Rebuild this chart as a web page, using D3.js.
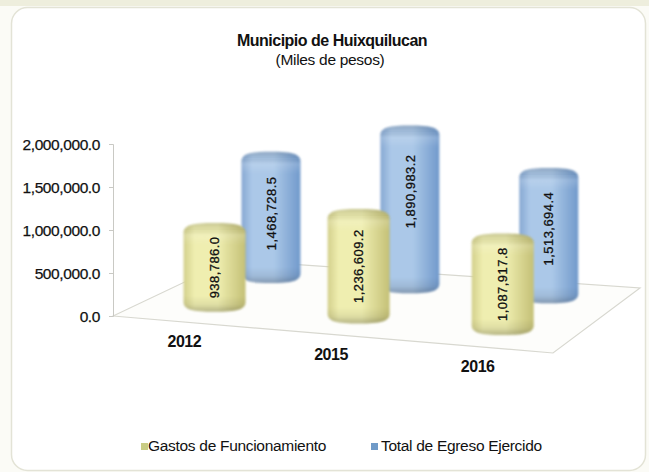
<!DOCTYPE html>
<html>
<head>
<meta charset="utf-8">
<script src="https://cdn.jsdelivr.net/npm/d3@7"></script>
<style>
html, body { margin: 0; padding: 0; background: #fff; }
svg { display: block; }
text { font-family: "Liberation Sans", Arial, sans-serif; fill: #111; }
.axis path, .axis line { stroke: #c9c9c4; fill: none; }
.axis text { font-size: 15.5px; letter-spacing: -0.4px; stroke: #111; stroke-width: 0.25px; }
</style>
</head>
<body>
<svg width="649" height="472"></svg>
<script>
var categories = ["2012", "2015", "2016"];
var seriesNames = ["Gastos de Funcionamiento", "Total de Egreso Ejercido"];
var gastos = [938786.0, 1236609.2, 1087917.8];
var egreso = [1468728.5, 1890983.2, 1513694.4];
var yTicks = [0, 500000, 1000000, 1500000, 2000000];

var svg = d3.select("svg"),
    defs = svg.append("defs");

// the four corners of the 3d floor, everything on the floor is placed between them
var floor = {
    frontLeft: [113, 316], frontRight: [553, 353],
    backRight: [640, 288], backLeft: [231, 260]
};

var colors = [
    {id: "yellow", edgeL: "#d3d08c", light: "#efeeb0", edgeR: "#c4c076", swatch: "#c9cc84", cap: 8, half: 31},
    {id: "blue", edgeL: "#86a8d2", light: "#abc8e8", edgeR: "#7199cb", swatch: "#6f9ac8", cap: 5, half: 29.5}
];

var yScale = d3.scaleLinear().domain([0, 2000000]).range([316, 144]);
var catScale = d3.scaleBand().domain(categories).range([0, 1]);
var depthScale = d3.scaleBand().domain(seriesNames).range([0, 1]);
var comma = d3.format(",.1f");

// blue labels do not sit in the middle of their cylinder in the original
var labelLift = {"2012": 4, "2015": 18, "2016": 7};

function project(u, v) {
    var lx = floor.frontLeft[0] + (floor.backLeft[0] - floor.frontLeft[0]) * v,
        ly = floor.frontLeft[1] + (floor.backLeft[1] - floor.frontLeft[1]) * v,
        rx = floor.frontRight[0] + (floor.backRight[0] - floor.frontRight[0]) * v,
        ry = floor.frontRight[1] + (floor.backRight[1] - floor.frontRight[1]) * v;
    return [lx + (rx - lx) * u, ly + (ry - ly) * u];
}

// the reference is a soft jpeg, the cylinders need a little of that
defs.append("filter").attr("id", "soft")
    .append("feGaussianBlur").attr("stdDeviation", 0.8);

// page and panel
svg.append("rect").attr("width", 649).attr("height", 472).attr("fill", "#fbfbf6");
svg.append("rect").attr("width", 649).attr("height", 6).attr("fill", "#eeeedd");
svg.append("rect")
    .attr("x", 11.5).attr("y", 7.5)
    .attr("width", 634).attr("height", 463)
    .attr("rx", 16)
    .attr("fill", "#fff")
    .attr("stroke", "#e3e3d6")
    .attr("stroke-width", 1.5);

// title
svg.append("text")
    .attr("x", 332).attr("y", 46)
    .attr("text-anchor", "middle")
    .style("font-size", "16px").style("font-weight", "bold").style("letter-spacing", "-0.5px")
    .text("Municipio de Huixquilucan");
svg.append("text")
    .attr("x", 330).attr("y", 65)
    .attr("text-anchor", "middle")
    .style("font-size", "15.5px").style("letter-spacing", "-0.3px")
    .text("(Miles de pesos)");

// floor
svg.append("path")
    .attr("d", d3.line()([floor.frontLeft, floor.frontRight, floor.backRight, floor.backLeft]) + "Z")
    .attr("fill", "#fdfdfb")
    .attr("stroke", "#d8d8d0")
    .attr("stroke-width", 1.2);

// y axis
svg.append("g")
    .attr("class", "axis")
    .attr("transform", "translate(113,0)")
    .call(d3.axisLeft(yScale).tickValues(yTicks).tickFormat(comma).tickSize(4).tickPadding(9))
    .call(function(g) { g.selectAll("text").attr("dy", "0.36em"); });

// category labels
svg.selectAll(".cat")
    .data(categories)
    .enter().append("text")
    .attr("class", "cat")
    .attr("text-anchor", "middle")
    .attr("x", function(d) { return project(catScale(d) + catScale.bandwidth() / 2, 0)[0] - 2; })
    .attr("y", function(d) { return project(catScale(d) + catScale.bandwidth() / 2, 0)[1] + 25; })
    .style("font-size", "16px").style("font-weight", "bold").style("letter-spacing", "-0.5px")
    .text(function(d) { return d; });

// side shading of the cylinders
colors.forEach(function(c) {
    var grad = defs.append("linearGradient").attr("id", "side-" + c.id);
    grad.append("stop").attr("offset", "0%").attr("stop-color", c.edgeL);
    grad.append("stop").attr("offset", "18%").attr("stop-color", c.light);
    grad.append("stop").attr("offset", "55%").attr("stop-color", c.light);
    grad.append("stop").attr("offset", "100%").attr("stop-color", c.edgeR);
});

var bars = [];
// back row first so the yellow ones overlap the blue ones
[egreso, gastos].forEach(function(values) {
    var s = values === gastos ? 0 : 1;
    categories.forEach(function(cat, i) {
        var p = project(catScale(cat) + catScale.bandwidth() / 2,
                        depthScale(seriesNames[s]) + depthScale.bandwidth() / 2);
        var bottom = p[1] + 4;
        bars.push({
            cat: cat, value: values[i], color: colors[s], s: s, cx: p[0], bottom: bottom,
            top: bottom - (yScale(0) - yScale(values[i])) - colors[s].cap
        });
    });
});

// rim shading top and bottom, one gradient per bar because the heights differ
bars.forEach(function(d, i) {
    var grad = defs.append("linearGradient")
        .attr("id", "rim-" + i)
        .attr("gradientUnits", "userSpaceOnUse")
        .attr("x1", 0).attr("x2", 0).attr("y1", d.top).attr("y2", d.bottom);
    var h = d.bottom - d.top;
    [[0, "#000", 0.16], [6 / h, "#000", 0.06], [12 / h, "#fff", 0.15], [22 / h, "#fff", 0],
     [1 - 16 / h, "#000", 0], [1 - 7 / h, "#000", 0.07], [1, "#000", 0.24]].forEach(function(st) {
        grad.append("stop").attr("offset", st[0]).attr("stop-color", st[1]).attr("stop-opacity", st[2]);
    });
});

// squarer than an ellipse at the shoulders, like the bevelled bars of the original
function cylinder(d) {
    var r = d.color.half, ry = 10, cx = d.cx, top = d.top, bottom = d.bottom;
    return "M" + (cx - r) + "," + (top + ry) +
        "C" + (cx - r) + "," + (top + ry * 0.2) + " " + (cx - r * 0.7) + "," + top + " " + cx + "," + top +
        "C" + (cx + r * 0.7) + "," + top + " " + (cx + r) + "," + (top + ry * 0.2) + " " + (cx + r) + "," + (top + ry) +
        "L" + (cx + r) + "," + (bottom - ry) +
        "C" + (cx + r) + "," + (bottom - ry * 0.2) + " " + (cx + r * 0.7) + "," + bottom + " " + cx + "," + bottom +
        "C" + (cx - r * 0.7) + "," + bottom + " " + (cx - r) + "," + (bottom - ry * 0.2) + " " + (cx - r) + "," + (bottom - ry) + "Z";
}

var bar = svg.selectAll(".bar")
    .data(bars)
    .enter().append("g")
    .attr("class", "bar");

bar.append("path")
    .attr("d", cylinder)
    .attr("filter", "url(#soft)")
    .attr("fill", function(d) { return "url(#side-" + d.color.id + ")"; });

bar.append("path")
    .attr("d", cylinder)
    .attr("filter", "url(#soft)")
    .attr("fill", function(d, i) { return "url(#rim-" + i + ")"; });

bar.append("text")
    .attr("text-anchor", "middle")
    .attr("dy", "0.36em")
    .attr("transform", function(d) {
        var mid = (d.top + d.bottom) / 2 - (d.s === 1 ? labelLift[d.cat] : 0);
        return "translate(" + d.cx + "," + mid + ") rotate(-90)";
    })
    .style("font-size", "13px").style("letter-spacing", "0.45px")
    .style("stroke", "#111").style("stroke-width", "0.3px")
    .text(function(d) { return comma(d.value); });

// legend
var legendX = [141, 371], legendTextX = [148, 381];
seriesNames.forEach(function(name, i) {
    svg.append("rect")
        .attr("x", legendX[i]).attr("y", 443)
        .attr("width", 7).attr("height", 7)
        .attr("fill", colors[i].swatch);
    svg.append("text")
        .attr("x", legendTextX[i]).attr("y", 451)
        .style("font-size", "15.5px").style("letter-spacing", "-0.3px")
        .text(name);
});
</script>
</body>
</html>
